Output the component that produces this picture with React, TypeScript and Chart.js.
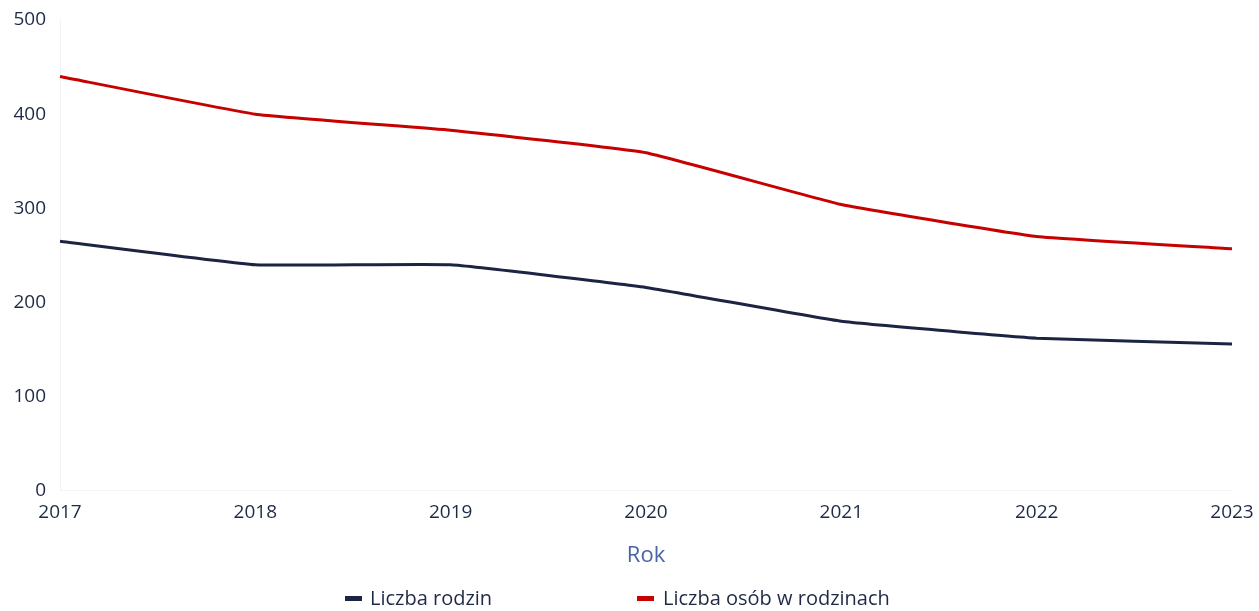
import React, { useEffect, useRef } from "react";
import { Chart, registerables } from "chart.js";

Chart.register(...registerables);

const years = ["2017", "2018", "2019", "2020", "2021", "2022", "2023"];
const liczbaRodzin = [265, 240, 240, 216, 180, 162, 156];
const liczbaOsob = [440, 400, 383, 359, 304, 270, 257];
const seriesNames = ["Liczba rodzin", "Liczba osób w rodzinach"];
const seriesColors = ["#1b2442", "#c70000"];
const axisTitle = "Rok";

const FONT = "'Open Sans', 'Noto Sans', sans-serif";

export default function App() {
  const canvasRef = useRef<HTMLCanvasElement | null>(null);

  useEffect(() => {
    const canvas = canvasRef.current;
    if (!canvas) return;
    const chart = new Chart(canvas, {
      type: "line",
      data: {
        labels: years,
        datasets: [
          {
            label: seriesNames[0],
            data: liczbaRodzin,
            borderColor: seriesColors[0],
            backgroundColor: seriesColors[0],
            borderWidth: 3,
            pointRadius: 0,
            tension: 0.1,
          },
          {
            label: seriesNames[1],
            data: liczbaOsob,
            borderColor: seriesColors[1],
            backgroundColor: seriesColors[1],
            borderWidth: 3,
            pointRadius: 0,
            tension: 0.1,
          },
        ],
      },
      options: {
        animation: false,
        responsive: false,
        maintainAspectRatio: false,
        layout: { padding: { top: 20, right: 27, bottom: 42, left: 0 } },
        plugins: {
          legend: { display: false },
          tooltip: { enabled: false },
        },
        scales: {
          x: {
            offset: false,
            grid: { display: false, drawTicks: false },
            border: { display: true, color: "#f3f3f3", width: 1 },
            ticks: {
              color: "#1e2a45",
              font: { family: FONT, size: 19 },
              padding: 10,
              maxRotation: 0,
              autoSkip: false,
            },
            title: {
              display: true,
              text: axisTitle,
              color: "#4a62a8",
              font: { family: FONT, size: 22 },
              padding: { top: 9, bottom: 0 },
            },
            afterFit: (scale: any) => {
              scale.paddingRight = 0;
              scale.paddingLeft = 0;
            },
          },
          y: {
            min: 0,
            max: 500,
            grid: { display: false, drawTicks: false },
            border: { display: true, color: "#f3f3f3", width: 1 },
            ticks: {
              stepSize: 100,
              color: "#1e2a45",
              font: { family: FONT, size: 19 },
              padding: 14,
            },
            afterFit: (scale: any) => {
              scale.width = 60;
              scale.paddingTop = 0;
              scale.paddingBottom = 0;
            },
          },
        },
      },
    });
    return () => chart.destroy();
  }, []);

  return (
    <div style={{ position: "absolute", left: 0, top: 0, width: 1259, height: 611, background: "#fff", overflow: "hidden" }}>
      <canvas ref={canvasRef} width={1259} height={611} style={{ display: "block" }} />
      <div
        style={{
          position: "absolute",
          top: 586,
          left: 0,
          width: 1259,
          height: 24,
          fontFamily: FONT,
          fontSize: 20,
          color: "#1e2a45",
          lineHeight: "24px",
        }}
      >
        <div style={{ position: "absolute", left: 345, top: 0, display: "flex", alignItems: "center", whiteSpace: "nowrap" }}>
          <span style={{ display: "inline-block", width: 17, height: 5, background: seriesColors[0], marginRight: 8 }} />
          <span>{seriesNames[0]}</span>
        </div>
        <div style={{ position: "absolute", left: 637, top: 0, display: "flex", alignItems: "center", whiteSpace: "nowrap" }}>
          <span style={{ display: "inline-block", width: 17, height: 5, background: seriesColors[1], marginRight: 9 }} />
          <span>{seriesNames[1]}</span>
        </div>
      </div>
    </div>
  );
}
